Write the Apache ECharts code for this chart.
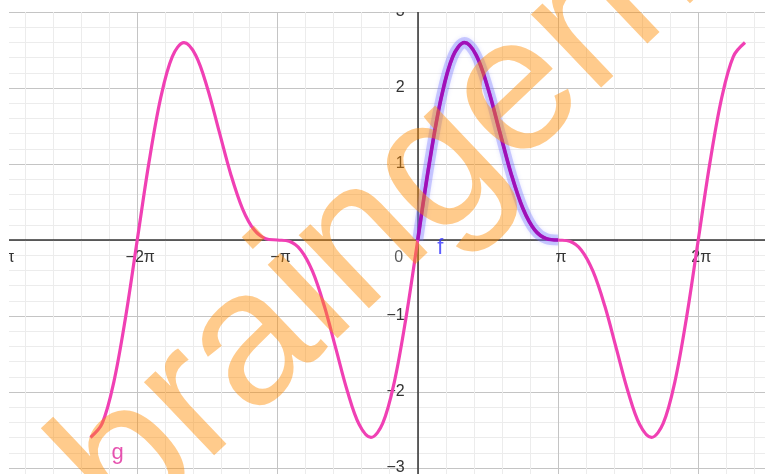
<!DOCTYPE html>
<html>
<head>
<meta charset="utf-8">
<script src="https://cdn.jsdelivr.net/npm/echarts@6/dist/echarts.min.js"></script>
<style>
  html, body { margin: 0; padding: 0; background: #fff; }
  #main { width: 765px; height: 474px; }
</style>
</head>
<body>
<div id="main"></div>
<script>
// x positions in twelfths of pi
const gSteps = [-28, -27, -26, -25, -24, -23, -22, -21, -20, -19, -18, -17, -16, -15, -14, -13, -12,
  -11, -10, -9, -8, -7, -6, -5, -4, -3, -2, -1, 0, 1, 2, 3, 4, 5, 6, 7, 8, 9, 10, 11, 12,
  13, 14, 15, 16, 17, 18, 19, 20, 21, 22, 23, 24, 25, 26, 27, 28];
const gValues = [-2.598, -2.414, -1.866, -1.018, 0, 1.018, 1.866, 2.414, 2.598, 2.432, 2, 1.432, 0.866, 0.414, 0.134, 0.018, 0,
  -0.018, -0.134, -0.414, -0.866, -1.432, -2, -2.432, -2.598, -2.414, -1.866, -1.018, 0, 1.018, 1.866, 2.414, 2.598, 2.432, 2, 1.432, 0.866, 0.414, 0.134, 0.018, 0,
  -0.018, -0.134, -0.414, -0.866, -1.432, -2, -2.432, -2.598, -2.414, -1.866, -1.018, 0, 1.018, 1.866, 2.414, 2.598];

const fSteps = [0, 1, 2, 3, 4, 5, 6, 7, 8, 9, 10, 11, 12];
const fValues = [0, 1.018, 1.866, 2.414, 2.598, 2.432, 2, 1.432, 0.866, 0.414, 0.134, 0.018, 0];

// x axis in units of pi
const xTicks = [-3, -2, -1, 0, 1, 2, 3];
const yTicks = [-4, -3, -2, -1, 0, 1, 2, 3];

// text labels sitting on the plane: [x (pi units), y, text]
const planeLabels = [[0, 0, '0'], [0.16, -0.1, 'f'], [-2.14, -2.8, 'g']];

const MINUS = '\u2212';

function piLabel(v) {
  if (v === 0) return '';
  const a = Math.abs(v);
  const s = (a === 1 ? '' : a) + 'π';
  return v < 0 ? MINUS + s : s;
}
function numLabel(v) {
  if (v === 0) return '';
  return v < 0 ? MINUS + (-v) : String(v);
}

const toXY = (steps, vals) => steps.map((s, i) => [s / 12, vals[i]]);

const chart = echarts.init(document.getElementById('main'));

const labelFont = { fontFamily: 'Liberation Sans', fontSize: 16, color: '#333' };

// grid extends past the window so the origin lands where the picture has it
const gridLeft = -3, gridTop = 12, pxPerPi = 140.25, pxPerUnit = 76;
const xMin = xTicks[0], xMax = xTicks[xTicks.length - 1];
const yMin = yTicks[0], yMax = yTicks[yTicks.length - 1];
const gridW = (xMax - xMin) * pxPerPi, gridH = (yMax - yMin) * pxPerUnit;

const option = {
  animation: false,
  backgroundColor: '#fff',
  grid: {
    left: gridLeft, top: gridTop, width: gridW, height: gridH,
    outerBoundsMode: 'none', containLabel: false
  },
  xAxis: {
    type: 'value', min: xMin, max: xMax, interval: 1,
    position: 'bottom', offset: -(-yMin * pxPerUnit),
    axisLine: { onZero: false, lineStyle: { color: '#333', width: 1.5 } },
    axisTick: { show: false },
    axisLabel: Object.assign({ margin: 10, padding: [0, 0, 0, 6], formatter: piLabel }, labelFont),
    splitLine: { show: true, lineStyle: { color: '#c4c4c4', width: 1 } },
    minorTick: { show: false, splitNumber: 5 },
    minorSplitLine: { show: true, lineStyle: { color: '#ececec', width: 1 } }
  },
  yAxis: {
    type: 'value', min: yMin, max: yMax, interval: 1,
    position: 'left', offset: -(-xMin * pxPerPi),
    axisLine: { onZero: false, lineStyle: { color: '#333', width: 1.5 } },
    axisTick: { show: false },
    axisLabel: Object.assign({ margin: 13, formatter: numLabel }, labelFont),
    splitLine: { show: true, lineStyle: { color: '#c4c4c4', width: 1 } },
    minorTick: { show: false, splitNumber: 5 },
    minorSplitLine: { show: true, lineStyle: { color: '#ececec', width: 1 } }
  },
  series: [
    {
      name: 'g', type: 'line', data: toXY(gSteps, gValues),
      showSymbol: false, smooth: 0.35, z: 3,
      lineStyle: { color: '#f040b4', width: 3.2 }
    },
    {
      name: 'f-halo', type: 'line', data: toXY(fSteps, fValues),
      showSymbol: false, smooth: 0.35, z: 4,
      lineStyle: { color: 'rgba(120,120,255,0.35)', width: 11, shadowBlur: 4, shadowColor: 'rgba(120,120,255,0.5)' }
    },
    {
      name: 'f', type: 'line', data: toXY(fSteps, fValues),
      showSymbol: false, smooth: 0.35, z: 5,
      lineStyle: { color: '#a010b8', width: 3.6 }
    },
    {
      type: 'scatter', symbolSize: 1, z: 6, silent: true,
      data: planeLabels.map(d => ({ value: [d[0], d[1]], name: d[2] })),
      label: { show: true, position: 'inside', formatter: p => p.name },
      itemStyle: { color: 'rgba(0,0,0,0)' },
      emphasis: { disabled: true }
    }
  ],
  graphic: [
    { type: 'rect', z: 100, shape: { x: 0, y: 0, width: 765, height: 12 }, style: { fill: '#fff' } },
    { type: 'rect', z: 100, shape: { x: 0, y: 0, width: 9, height: 474 }, style: { fill: '#fff' } },
    {
      type: 'text', z: 200, x: 404, y: 202, rotation: 0.76,
      style: {
        text: 'braingerm', font: '192px "Liberation Sans"',
        fill: 'rgba(255,140,0,0.45)', align: 'center', verticalAlign: 'middle'
      }
    }
  ]
};

// per-label styling for the plane labels
option.series[3].data[0].label = Object.assign({ show: true, offset: [-19, 18] }, labelFont);
option.series[3].data[1].label = { show: true, fontFamily: 'Liberation Sans', fontSize: 22, color: '#3535ff' };
option.series[3].data[2].label = { show: true, fontFamily: 'Liberation Sans', fontSize: 22, color: '#e0289c' };

chart.setOption(option);
</script>
</body>
</html>
